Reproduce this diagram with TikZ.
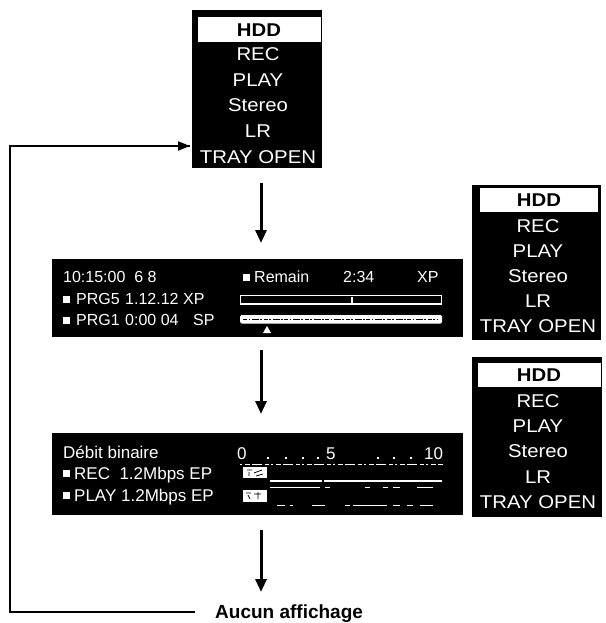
\documentclass[tikz,border=0pt]{standalone}
\usepackage{fontspec}
\setmainfont{Liberation Sans}
\newfontfamily\menufont[FakeStretch=1.1]{Liberation Sans}
\usetikzlibrary{arrows.meta}
\begin{document}
\begin{tikzpicture}[x=1pt,y=-1pt,
  panel/.style={fill=black,inner sep=0pt,outer sep=0pt,anchor=north west},
  hilite/.style={fill=white,inner sep=0pt,outer sep=0pt,anchor=north west},
  mtxt/.style={text=white,font=\menufont\fontsize{18.5}{21}\selectfont,inner sep=0pt,text height=13.2pt,text depth=0pt},
  mhdd/.style={mtxt,text=black,font=\menufont\fontsize{18.5}{21}\selectfont\bfseries},
  ptxt/.style={text=white,font=\fontsize{16}{19}\selectfont,inner sep=0pt,text height=11.5pt,text depth=0pt,anchor=west},
  qtxt/.style={ptxt,font=\fontsize{17}{20}\selectfont,text height=12.2pt},
  sqr/.style={fill=white,inner sep=0pt,minimum size=7pt,anchor=west},
  flowarr/.style={line width=3pt,-{Triangle[length=13pt,width=11pt]}},
  looparr/.style={line width=2pt},
  wline/.style={draw=white,line width=1.1pt}]
\useasboundingbox (0,0) rectangle (605,623);

% ---------- top menu ----------
\node[panel,minimum width=130pt,minimum height=158pt] (m0) at (192,10) {};
\node[hilite,minimum width=123pt,minimum height=25pt] (m0h) at (198,17) {};
\node[mhdd] (m0a) at (259,29.5) {HDD};
\node[mtxt] (m0b) at (258,54) {REC};
\node[mtxt] (m0c) at (258,79.5) {PLAY};
\node[mtxt] (m0d) at (258,105) {Stereo};
\node[mtxt] (m0e) at (258,131) {LR};
\node[mtxt] (m0f) at (258,157) {TRAY OPEN};

% ---------- panel 2 ----------
\node[panel,minimum width=411pt,minimum height=78pt] (p2) at (52,259) {};
\node[ptxt] (p2a) at (63,277) {10:15:00\ \ 6 8};
\node[sqr] (p2s1) at (243,277) {};
\node[ptxt] (p2b) at (254,277) {Remain};
\node[ptxt] (p2c) at (343,277) {2:34};
\node[ptxt] (p2d) at (417,277) {XP};
\node[sqr] (p2s2) at (63,299) {};
\node[ptxt] (p2e) at (76,299) {PRG5};
\node[ptxt] (p2f) at (125,299) {1.12.12};
\node[ptxt] (p2g) at (183,299) {XP};
\node[sqr] (p2s3) at (63,320) {};
\node[ptxt] (p2h) at (76,320) {PRG1};
\node[ptxt] (p2i) at (125,320) {0:00 04};
\node[ptxt] (p2j) at (193,320) {SP};
% bars
\draw[wline] (240.5,295.5) rectangle (441.5,304);
\draw[wline] (352,297) -- (352,304);
\fill[white,rounded corners=1.5pt] (240,315) rectangle (442,323.5);
\draw[black,line width=1.3pt,dash pattern=on 4pt off 1.5pt on 1.5pt off 2pt on 7pt off 1pt on 2pt off 1.5pt]
  (243,319.3) -- (437,319.3);
\fill[white] (267,326) -- (263,333) -- (271,333) -- cycle;

% ---------- panel 3 ----------
\node[panel,minimum width=411pt,minimum height=82pt] (p3) at (52,433) {};
\node[qtxt] (p3a) at (63,452) {Débit binaire};
\node[sqr] (p3s1) at (63,473) {};
\node[qtxt] (p3b) at (74,473) {REC\ \ 1.2Mbps EP};
\node[sqr] (p3s2) at (63,495) {};
\node[qtxt] (p3c) at (74,495) {PLAY 1.2Mbps EP};
\node[qtxt] (p3d) at (237,453) {0};
\node[qtxt] (p3e) at (326,453) {5};
\node[qtxt] (p3f) at (424,453) {10};
\foreach \dx in {267,285,302,317,377,393,410}
  \fill[white] (\dx,457) rectangle ++(1.8,1.8);
\draw[wline,dash pattern=on 2pt off 3pt on 5pt off 2pt on 10pt off 3pt on 4pt off 2pt] (240,464.5) -- (443,464.5);
% icons
\fill[white] (243,467) rectangle (267,478);
\fill[white] (243,490) rectangle (267,502);
\draw[black,line width=0.8pt] (247,470) -- (252,470) (249,472) -- (249,476) (254,473) -- (262,470) (256,476) -- (263,474);
\draw[black,line width=0.8pt] (246,493) -- (251,493) (248,495) -- (250,499) (254,494) -- (261,494) (258,492) -- (258,499);
\draw[wline] (270,481) -- (322,481) (324,481) -- (442,481);
\draw[wline,line width=0.9pt] (270,487.5) -- (320,487.5) (325,487.5) -- (330,487.5) (365,487.5) -- (370,487.5)
  (383,487.5) -- (388,487.5) (393,487.5) -- (400,487.5) (417,487.5) -- (433,487.5);
\draw[wline,line width=0.9pt] (277,505) -- (285,505) (290,505) -- (293,505) (312,505) -- (325,505) (345,505) -- (350,505)
  (353,505) -- (387,505) (393,505) -- (400,505) (407,505) -- (413,505) (420,505) -- (433,505);

% ---------- right menu 1 ----------
\node[panel,minimum width=129pt,minimum height=155pt] (r1) at (472,185) {};
\node[hilite,minimum width=118pt,minimum height=24pt] (r1h) at (480,188) {};
\node[mhdd] (r1a) at (539,200) {HDD};
\node[mtxt] (r1b) at (538,226) {REC};
\node[mtxt] (r1c) at (538,251) {PLAY};
\node[mtxt] (r1d) at (538,276) {Stereo};
\node[mtxt] (r1e) at (538,301) {LR};
\node[mtxt] (r1f) at (538,326) {TRAY OPEN};

% ---------- right menu 2 ----------
\node[panel,minimum width=130pt,minimum height=160pt] (r2) at (472,357) {};
\node[hilite,minimum width=123pt,minimum height=24pt] (r2h) at (478,363) {};
\node[mhdd] (r2a) at (539,375) {HDD};
\node[mtxt] (r2b) at (538,400.5) {REC};
\node[mtxt] (r2c) at (538,426) {PLAY};
\node[mtxt] (r2d) at (538,451) {Stereo};
\node[mtxt] (r2e) at (538,476.5) {LR};
\node[mtxt] (r2f) at (538,502) {TRAY OPEN};

% ---------- bottom text ----------
\node[inner sep=0pt,text height=13.5pt,text depth=0pt,anchor=west,font=\fontsize{19}{22}\selectfont\bfseries] (none) at (215,612) {Aucun affichage};

% ---------- arrows ----------
\coordinate (ax) at (261,0);
\coordinate (lx) at (10,0);
\coordinate (ly) at (0,146);
\draw[flowarr,shorten <=15pt,shorten >=16pt] (ax |- m0.south) -- (ax |- p2.north);
\draw[flowarr,shorten <=13pt,shorten >=19pt] (ax |- p2.south) -- (ax |- p3.north);
\draw[flowarr,shorten <=15pt] (ax |- p3.south) -- (ax |- 0,592);
\draw[looparr] ([xshift=-20pt]none.west) -- (lx |- none.west) -- (lx |- ly) -- ([xshift=-2pt]m0.west |- ly);
\draw[line width=2pt,-{Triangle[length=12pt,width=9pt]}] ([xshift=-40pt]m0.west |- ly) -- ([xshift=-2pt]m0.west |- ly);
\end{tikzpicture}
\end{document}
